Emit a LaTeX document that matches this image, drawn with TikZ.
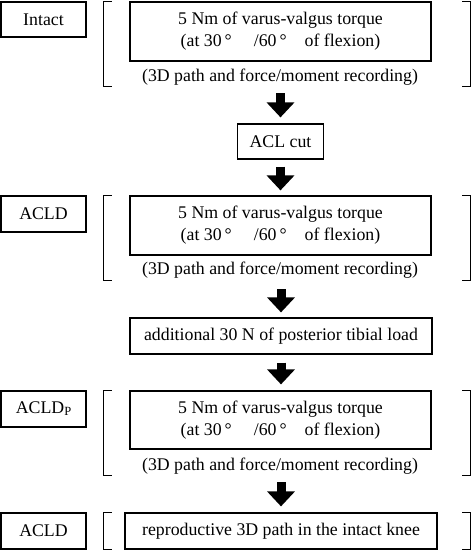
\documentclass[tikz,border=0pt]{standalone}
\usepackage{fontspec}
\setmainfont{Liberation Serif}
\usetikzlibrary{arrows.meta}
\begin{document}
\begin{tikzpicture}[x=1pt,y=-1pt,
  txt/.style={font=\fontsize{17.8}{22}\selectfont, align=center, inner sep=0pt},
  box/.style={txt, draw, line width=1.2pt},
  grp/.style={inner sep=0pt, minimum width=366pt, minimum height=84pt},
  bigarrow/.style={line width=9pt, -{Triangle[width=27pt,length=15pt]}},
  brk/.style={line width=1pt}]
\useasboundingbox (0,0) rectangle (472,552);
\newcommand{\flexline}{(at 30\,°\hspace{22pt}/60\,°\hspace{18pt}of flexion)}
% block 1
\node[box, minimum width=85pt, minimum height=35pt] (intact) at (43.5,19.5) {Intact};
\node[grp] (g1) at (287,44) {};
\node[box, minimum width=301pt, minimum height=59pt] (i1) at (280.5,31.5) {5 Nm of varus-valgus torque\\ \flexline};
\node[txt] (r1) at (280,77) {(3D path and force/moment recording)};
\draw[brk] ([xshift=8pt]g1.north west) -- (g1.north west) -- (g1.south west) -- ([xshift=8pt]g1.south west);
\draw[brk] ([xshift=-8pt]g1.north east) -- (g1.north east) -- (g1.south east) -- ([xshift=-8pt]g1.south east);
% ACL cut
\node[box, minimum width=86pt, minimum height=35pt] (acl) at (280.5,141.5) {ACL cut};
% block 2
\node[box, minimum width=85pt, minimum height=36pt] (acld) at (43.5,214) {ACLD};
\node[grp] (g2) at (287,238) {};
\node[box, minimum width=301pt, minimum height=59pt] (i2) at (280.5,225.5) {5 Nm of varus-valgus torque\\ \flexline};
\node[txt] (r2) at (280,270) {(3D path and force/moment recording)};
\draw[brk] ([xshift=8pt]g2.north west) -- (g2.north west) -- (g2.south west) -- ([xshift=8pt]g2.south west);
\draw[brk] ([xshift=-8pt]g2.north east) -- (g2.north east) -- (g2.south east) -- ([xshift=-8pt]g2.south east);
% additional
\node[box, minimum width=302pt, minimum height=36pt] (add) at (281,336) {additional 30 N of posterior tibial load};
% block 3
\node[box, minimum width=85pt, minimum height=36pt] (acldp) at (43.5,409) {ACLD\raisebox{-2pt}{\fontsize{12.5}{12.5}\selectfont P}};
\node[grp] (g3) at (287,433) {};
\node[box, minimum width=301pt, minimum height=58pt] (i3) at (280.5,420) {5 Nm of varus-valgus torque\\ \flexline};
\node[txt] (r3) at (280,466) {(3D path and force/moment recording)};
\draw[brk] ([xshift=8pt]g3.north west) -- (g3.north west) -- (g3.south west) -- ([xshift=8pt]g3.south west);
\draw[brk] ([xshift=-8pt]g3.north east) -- (g3.north east) -- (g3.south east) -- ([xshift=-8pt]g3.south east);
% block 4
\node[box, minimum width=85pt, minimum height=36pt] (acld2) at (43.5,531) {ACLD};
\node[grp, minimum height=36pt] (g4) at (287,531) {};
\node[box, minimum width=312pt, minimum height=36pt] (i4) at (281,531) {reproductive 3D path in the intact knee};
\draw[brk] ([xshift=8pt]g4.north west) -- (g4.north west) -- (g4.south west) -- ([xshift=8pt]g4.south west);
\draw[brk] ([xshift=-8pt]g4.north east) -- (g4.north east) -- (g4.south east) -- ([xshift=-8pt]g4.south east);
% arrows
\draw[bigarrow, shorten <=7pt, shorten >=6pt] (g1.south -| acl.center) -- (acl.north);
\draw[bigarrow, shorten <=7pt, shorten >=5pt] (acl.south) -- (i2.north -| acl.center);
\draw[bigarrow, shorten <=9pt, shorten >=5pt] (g2.south -| add.center) -- (add.north);
\draw[bigarrow, shorten <=8pt, shorten >=6pt] (add.south) -- (i3.north -| add.center);
\draw[bigarrow, shorten <=7pt, shorten >=6pt] (g3.south -| i4.center) -- (i4.north);
\end{tikzpicture}
\end{document}
